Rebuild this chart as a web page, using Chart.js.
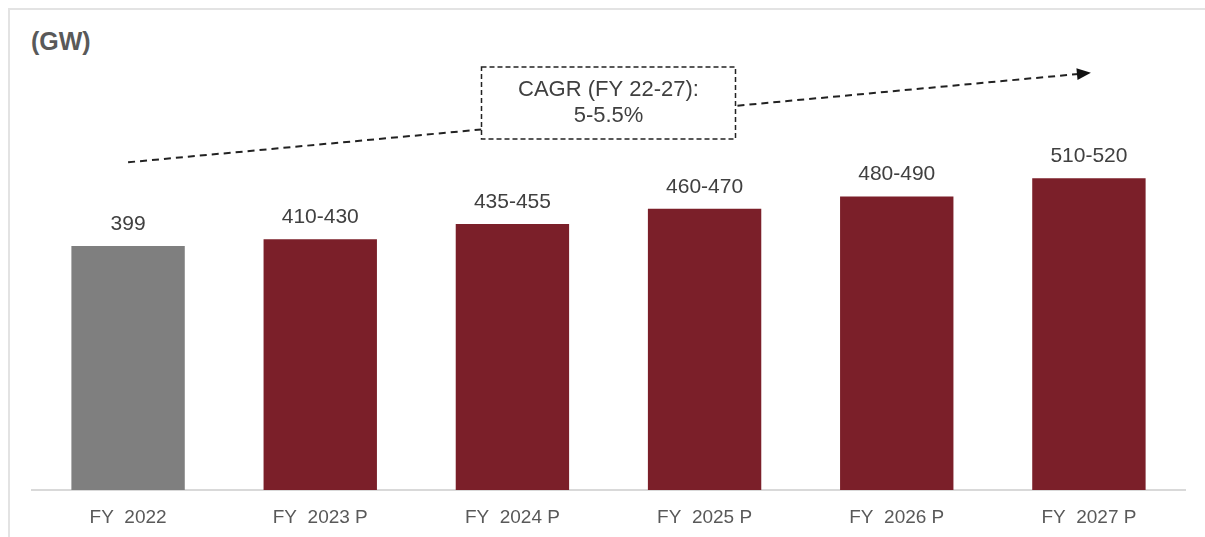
<!DOCTYPE html>
<html>
<head>
<meta charset="utf-8">
<script src="https://cdn.jsdelivr.net/npm/chart.js@4.4.0/dist/chart.umd.min.js"></script>
<style>
  body { margin: 0; background: #fff; }
  #wrap { position: relative; width: 1205px; height: 537px; }
  #frame { position: absolute; left: 8px; top: 8px; right: 0; bottom: 0; border-top: 2px solid #e3e3e3; border-left: 2px solid #e3e3e3; }
  #unit { position: absolute; left: 31px; top: 27px; font: bold 25px Arial, "Liberation Sans", sans-serif; color: #595959; }
  canvas { position: absolute; left: 0; top: 0; }
</style>
</head>
<body>
<div id="wrap">
  <div id="frame"></div>
  <div id="unit">(GW)</div>
  <canvas id="chart" width="1205" height="537"></canvas>
</div>
<script>
// values (bar heights = lower bound of each projected range)
var categories = ['FY  2022', 'FY  2023 P', 'FY  2024 P', 'FY  2025 P', 'FY  2026 P', 'FY  2027 P'];
var capacity = [399, 410, 435, 460, 480, 510];
var barLabels = ['399', '410-430', '435-455', '460-470', '480-490', '510-520'];
var barColors = ['#7f7f7f', '#7b1f29', '#7b1f29', '#7b1f29', '#7b1f29', '#7b1f29'];

// CAGR arrow + callout, in category index / value units
var arrowFrom = [0, 536];
var arrowTo = [5, 682];
var cagrText = ['CAGR (FY 22-27):', '5-5.5%'];
var cagrAt = [2.5, 633];

var FONT = 'Arial, "Liberation Sans", sans-serif';

var annotations = {
  id: 'annotations',
  afterDatasetsDraw: function (chart) {
    var ctx = chart.ctx;
    var xs = chart.scales.x, ys = chart.scales.y;
    var meta = chart.getDatasetMeta(0);

    // value labels above bars
    ctx.save();
    ctx.fillStyle = '#404040';
    ctx.font = '21px ' + FONT;
    ctx.textAlign = 'center';
    ctx.textBaseline = 'middle';
    meta.data.forEach(function (bar, i) {
      ctx.fillText(barLabels[i], bar.x, bar.y - 22);
    });
    ctx.restore();

    // dashed arrow
    var x1 = xs.getPixelForValue(arrowFrom[0]), y1 = ys.getPixelForValue(arrowFrom[1]);
    var x2 = xs.getPixelForValue(arrowTo[0]), y2 = ys.getPixelForValue(arrowTo[1]);
    var ang = Math.atan2(y2 - y1, x2 - x1);
    ctx.save();
    ctx.strokeStyle = '#222';
    ctx.lineWidth = 2;
    ctx.setLineDash([7, 5]);
    ctx.beginPath();
    ctx.moveTo(x1, y1);
    ctx.lineTo(x2 - 10 * Math.cos(ang), y2 - 10 * Math.sin(ang));
    ctx.stroke();
    ctx.setLineDash([]);
    ctx.fillStyle = '#111';
    ctx.beginPath();
    ctx.moveTo(x2 + 2 * Math.cos(ang), y2 + 2 * Math.sin(ang));
    ctx.lineTo(x2 - 12 * Math.cos(ang) - 6 * Math.sin(ang), y2 - 12 * Math.sin(ang) + 6 * Math.cos(ang));
    ctx.lineTo(x2 - 12 * Math.cos(ang) + 6 * Math.sin(ang), y2 - 12 * Math.sin(ang) - 6 * Math.cos(ang));
    ctx.closePath();
    ctx.fill();
    ctx.restore();

    // CAGR box
    var cx = xs.getPixelForValue(cagrAt[0]), cy = ys.getPixelForValue(cagrAt[1]);
    var w = 254, h = 72;
    ctx.save();
    ctx.fillStyle = '#fff';
    ctx.fillRect(cx - w / 2, cy - h / 2, w, h);
    ctx.strokeStyle = '#222';
    ctx.lineWidth = 1.5;
    ctx.setLineDash([5, 3]);
    ctx.strokeRect(cx - w / 2, cy - h / 2, w, h);
    ctx.fillStyle = '#404040';
    ctx.font = '22px ' + FONT;
    ctx.textAlign = 'center';
    ctx.textBaseline = 'middle';
    ctx.fillText(cagrText[0], cx, cy - 13);
    ctx.fillText(cagrText[1], cx, cy + 13);
    ctx.restore();
  }
};

new Chart(document.getElementById('chart'), {
  type: 'bar',
  data: {
    labels: categories,
    datasets: [{
      data: capacity,
      backgroundColor: barColors,
      borderWidth: 0,
      categoryPercentage: 1,
      barPercentage: 0.59
    }]
  },
  options: {
    responsive: false,
    animation: false,
    layout: { padding: { left: 32, right: 20, top: 62, bottom: 0 } },
    plugins: { legend: { display: false }, tooltip: { enabled: false } },
    scales: {
      x: {
        grid: { display: false },
        border: { display: true, color: '#d9d9d9', width: 2 },
        ticks: { color: '#595959', font: { family: FONT, size: 19 }, padding: 8, maxRotation: 0 },
        afterFit: function (scale) { scale.height = 47; }
      },
      y: { display: false, min: 0, max: 700 }
    }
  },
  plugins: [annotations]
});
</script>
</body>
</html>
